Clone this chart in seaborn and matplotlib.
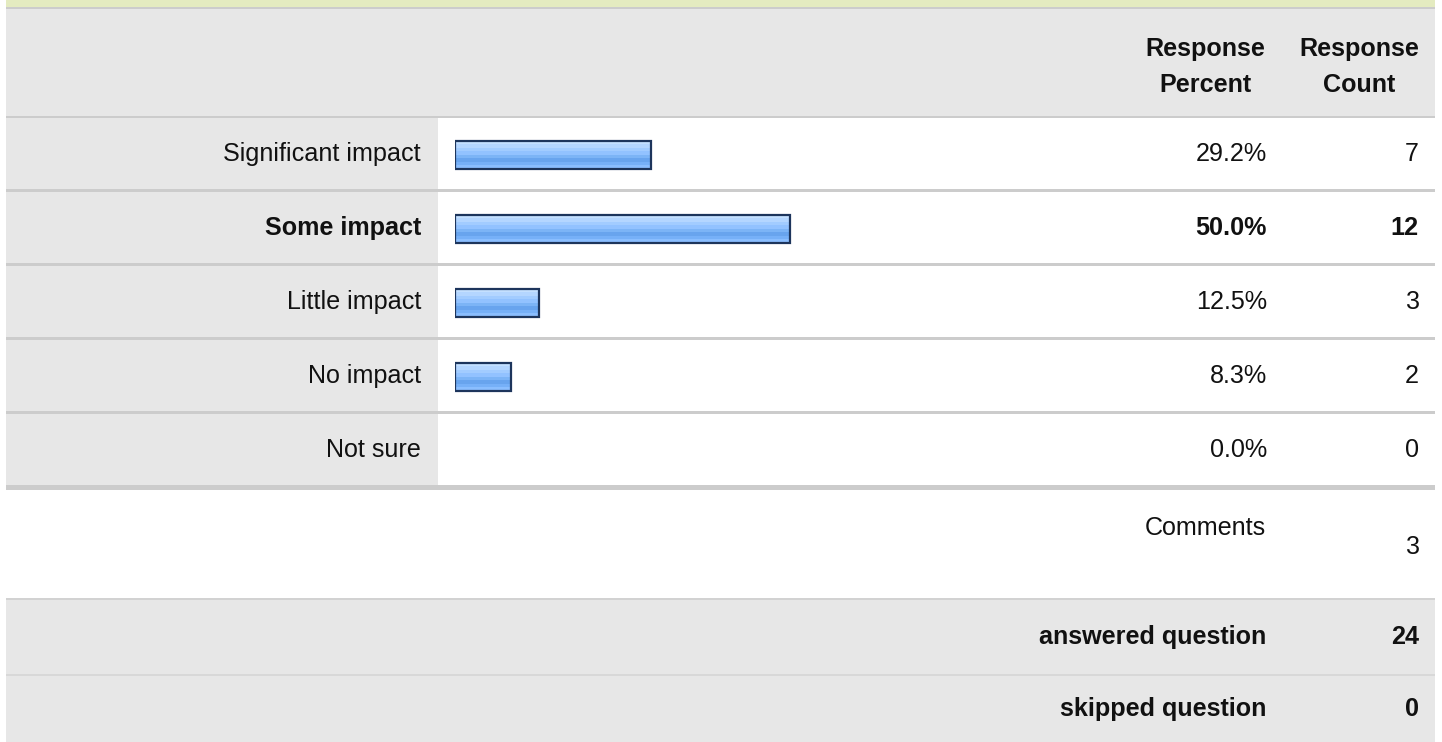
import numpy as np
import pandas as pd
import matplotlib
matplotlib.use("Agg")
import matplotlib.pyplot as plt
from matplotlib.patches import Rectangle
from matplotlib.colors import to_rgb
import seaborn as sns

# ── data ─────────────────────────────────────────────────────
answers = ["Significant impact", "Some impact", "Little impact", "No impact", "Not sure"]
percents = [29.2, 50.0, 12.5, 8.3, 0.0]
counts = [7, 12, 3, 2, 0]
comments = 3
answered = 24
skipped = 0

sns.set_theme(style="white")
plt.rcParams["font.family"] = ["Liberation Sans", "DejaVu Sans"]

W, H = 1442, 742
fig = plt.figure(figsize=(W / 100, H / 100), dpi=100)

# ── table background (pixel coordinates) ─────────────────────
bg = fig.add_axes([0, 0, 1, 1])
bg.set_xlim(0, W)
bg.set_ylim(H, 0)
bg.axis("off")

L, R = 6, 1435
GRAY, LINE = "#e7e7e7", "#cccccc"
FS = 18.1
TXT = "#111111"


def box(x0, y0, x1, y1, c):
    bg.add_patch(Rectangle((x0, y0), x1 - x0, y1 - y0, color=c, lw=0))


box(L, 0, R, 7, "#e4ebc0")
box(L, 7, R, 9, LINE)
box(L, 9, R, 116, GRAY)
box(L, 116, R, 118, LINE)

for txt, cx in [("Response\nPercent", 1205), ("Response\nCount", 1359)]:
    bg.text(cx, 67, txt, ha="center", va="center", fontsize=FS, fontweight="bold",
            color=TXT, linespacing=1.65)

top, pitch = 118, 74
best = int(np.argmax(counts))
for i, (lab, p, c) in enumerate(zip(answers, percents, counts)):
    y0 = top + i * pitch
    box(L, y0, 438, y0 + 71, GRAY)
    last = i == len(answers) - 1
    box(L, y0 + 71, R, y0 + (76 if last else 74), LINE)
    cy = y0 + 36
    w = "bold" if i == best else "normal"
    bg.text(421, cy, lab, ha="right", va="center", fontsize=FS, fontweight=w, color=TXT)
    bg.text(1267, cy, f"{p:.1f}%", ha="right", va="center", fontsize=FS, fontweight=w, color=TXT)
    bg.text(1419, cy, str(c), ha="right", va="center", fontsize=FS, fontweight=w, color=TXT)

# comments row
bg.text(1266, 528, "Comments", ha="right", va="center", fontsize=FS, color=TXT)
bg.text(1419, 547, str(comments), ha="right", va="center", fontsize=FS, color=TXT)
box(L, 598, R, 600, "#d2d2d2")

# summary rows
box(L, 600, R, 742, GRAY)
box(L, 674, R, 676, "#d8d8d8")
for yc, lab, v in [(637, "answered question", answered), (709, "skipped question", skipped)]:
    bg.text(1266, yc, lab, ha="right", va="center", fontsize=FS, fontweight="bold", color=TXT)
    bg.text(1419, yc, str(v), ha="right", va="center", fontsize=FS, fontweight="bold", color=TXT)

# ── bars ─────────────────────────────────────────────────────
bx0, bx1 = 455, 1125
by0, by1 = top, top + pitch * len(answers)
ax = fig.add_axes([bx0 / W, (H - by1) / H, (bx1 - bx0) / W, (by1 - by0) / H])
ax.patch.set_alpha(0)

df = pd.DataFrame({"answer": answers, "percent": percents})
sns.barplot(data=df, x="percent", y="answer", order=answers, orient="h",
            width=28 / pitch, color="#8ec0fa", edgecolor="#1d355c", linewidth=1.6,
            ax=ax)
ax.set_xlim(0, 100)
ax.set_ylim(len(answers) - 0.5, -0.5)
ax.axis("off")

stops = ["#c4e0ff", "#b4d6ff", "#a2ccff", "#92c2ff", "#7cb4f6", "#68a4ee", "#76b0f8", "#8abeff"]
grad = np.array([to_rgb(s) for s in stops]).reshape(len(stops), 1, 3)
for patch in ax.patches:
    bb = patch.get_bbox()
    if bb.width <= 0:
        patch.set_visible(False)
        continue
    im = ax.imshow(grad, extent=[bb.x0, bb.x1, bb.y1, bb.y0], aspect="auto",
                   interpolation="nearest", zorder=1)
    im.set_clip_path(patch)
    patch.set_facecolor("none")
    patch.set_zorder(3)
ax.set_xlim(0, 100)
ax.set_ylim(len(answers) - 0.5, -0.5)

fig.savefig("out.png", dpi=100, facecolor="white")
